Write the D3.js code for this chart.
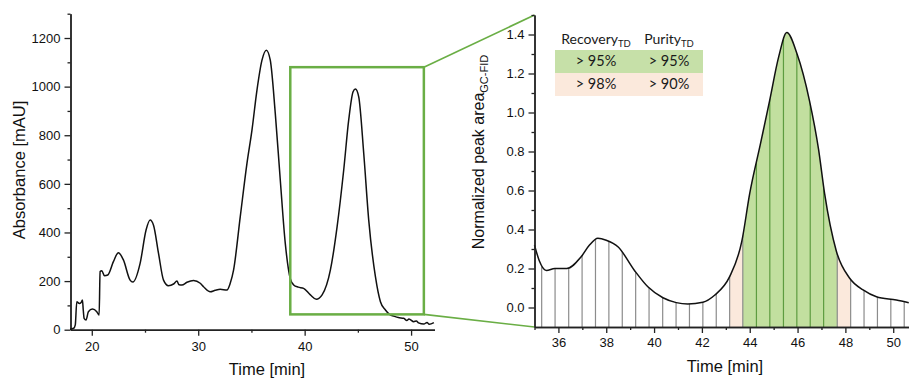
<!DOCTYPE html>
<html><head><meta charset="utf-8">
<script src="https://cdn.jsdelivr.net/npm/d3@7"></script>
<style>body{margin:0;background:#fff}svg{display:block}</style>
</head><body>
<svg id="c" width="909" height="378"></svg>
<script>
// ---- Data ----
const uvTime = [17.96,18.3,18.45,18.59,18.83,19.0,19.12,19.2,19.28,19.46,19.68,20.06,20.47,20.69,20.78,20.94,21.19,21.5,22.03,22.5,22.97,23.6,23.86,24.54,25.1,25.48,25.8,26.27,26.74,27.2,27.68,28.0,28.2,28.47,28.94,29.56,30.19,30.5,31.13,31.6,32.07,32.7,33.0,33.32,33.95,34.58,35.05,35.52,35.99,36.4,36.77,37.24,37.71,38.18,38.65,38.97,39.4,39.9,40.54,41.1,41.64,42.42,43.05,43.67,44.14,44.55,44.77,45.08,45.55,46.02,46.65,47.12,47.59,48.0,48.37,48.8,49.31,49.6,49.8,50.25,50.5,50.7,51.2,51.5,51.7,52.14];
const uvAbs = [2,6,20,115,108,112,122,80,47,40,74,85,74,60,239,243,222,225,280,317,287,204,196,273,410,451,430,314,204,181,188,200,185,184,195,202,191,177,156,162,166,163,190,245,465,684,821,986,1109,1150,1109,890,616,355,210,184,175,170,143,125,143,246,424,657,863,979,990,958,726,451,218,115,81,62,56,50,47,38,44,33,36,28,23,30,22,29];
const zoomTime = [38.65, 51.2];
const zoomAbs = [63, 1080];

const gcTime = [35.0,35.2,35.5,35.85,36.35,36.95,37.3,37.65,38.0,38.5,39.18,39.74,40.37,40.93,41.41,42.04,42.53,43.16,43.67,44.0,44.45,44.83,45.21,45.55,45.98,46.5,46.88,47.13,47.62,48.18,48.74,49.3,50.13,50.65];
const gcArea = [0.32,0.24,0.19,0.20,0.20,0.26,0.32,0.355,0.345,0.31,0.19,0.106,0.05,0.025,0.018,0.027,0.063,0.158,0.34,0.585,0.84,1.06,1.285,1.41,1.30,1.06,0.81,0.585,0.29,0.15,0.09,0.055,0.038,0.024];
const fractionTimes = [35.30,35.86,36.43,36.99,37.55,38.11,38.67,39.23,39.79,40.36,40.92,41.48,42.04,42.60,43.16,43.71,44.28,44.84,45.41,45.97,46.53,47.09,47.66,48.22,48.78,49.34,49.90,50.46];
const greenRange = [43.71, 47.66];
const beigeRange = [43.16, 48.22];

const tableHeaders = ["Recovery", "Purity"];
const tableSub = "TD";
const tableRows = [["> 95%", "> 95%"], ["> 98%", "> 90%"]];

const leftXMajor = [20,30,40,50], leftXMinor = [25,35,45];
const leftYMajor = [0,200,400,600,800,1000,1200], leftYMinor = [100,300,500,700,900,1100,1300];
const rightXMajor = [36,38,40,42,44,46,48,50], rightXMinor = [35,37,39,41,43,45,47,49];
const rightYMajor = [0,0.2,0.4,0.6,0.8,1.0,1.2,1.4], rightYMinor = [0.1,0.3,0.5,0.7,0.9,1.1,1.3,1.5];

// ---- Drawing ----
const svg = d3.select("#c");
const AX = "#222", FONT = "'Liberation Sans', Arial, sans-serif";
const GREEN = "#6aae45";

const xL = d3.scaleLinear().domain([18, 52.2]).range([70.5, 434.5]);
const yL = d3.scaleLinear().domain([0, 1300]).range([329.7, 13.7]);
const xR = d3.scaleLinear().domain([35, 50.66]).range([534.5, 909]);
const yR = d3.scaleLinear().domain([-0.1, 1.5]).range([327, 15]);

function styleAxis(g){
  g.select(".domain").attr("stroke", AX).attr("stroke-width", 1.4);
  g.selectAll(".tick line").attr("stroke", AX).attr("stroke-width", 1.3);
  g.selectAll(".tick text").attr("font-family", FONT).attr("font-size", 13).attr("fill", "#111");
}

// left axes
svg.append("g").attr("transform", `translate(0,${yL(0)})`)
  .call(d3.axisBottom(xL).tickValues(leftXMinor).tickSize(3).tickFormat("").tickSizeOuter(0)).call(styleAxis);
svg.append("g").attr("transform", `translate(0,${yL(0)})`)
  .call(d3.axisBottom(xL).tickValues(leftXMajor).tickSize(6).tickPadding(6).tickFormat(d3.format("d")).tickSizeOuter(0)).call(styleAxis);
svg.append("g").attr("transform", `translate(${xL(18)},0)`)
  .call(d3.axisLeft(yL).tickValues(leftYMinor).tickSize(3).tickFormat("").tickSizeOuter(0)).call(styleAxis);
svg.append("g").attr("transform", `translate(${xL(18)},0)`)
  .call(d3.axisLeft(yL).tickValues(leftYMajor).tickSize(6).tickPadding(4).tickFormat(d3.format("d")).tickSizeOuter(0)).call(styleAxis);

// left curve
const uv = uvTime.map((t,i)=>[t, uvAbs[i]]);
svg.append("path").datum(uv)
  .attr("d", d3.line().x(d=>xL(d[0])).y(d=>yL(d[1])).curve(d3.curveMonotoneX))
  .attr("fill","none").attr("stroke","#111").attr("stroke-width",1.5).attr("stroke-linejoin","round");

// zoom box + connectors
svg.append("rect")
  .attr("x", xL(zoomTime[0])).attr("y", yL(zoomAbs[1]))
  .attr("width", xL(zoomTime[1]) - xL(zoomTime[0])).attr("height", yL(zoomAbs[0]) - yL(zoomAbs[1]))
  .attr("fill","none").attr("stroke",GREEN).attr("stroke-width",2.5);
svg.append("line").attr("x1", xL(zoomTime[1])).attr("y1", yL(zoomAbs[1])).attr("x2", xR(35)).attr("y2", yR(1.5))
  .attr("stroke",GREEN).attr("stroke-width",1.6);
svg.append("line").attr("x1", xL(zoomTime[1])).attr("y1", yL(zoomAbs[0])).attr("x2", xR(35)).attr("y2", yR(-0.1))
  .attr("stroke",GREEN).attr("stroke-width",1.6);

// axis labels left
svg.append("text").attr("transform", `translate(25,170) rotate(-90)`).attr("text-anchor","middle")
  .attr("font-family",FONT).attr("font-size",16.5).attr("fill","#111").text("Absorbance [mAU]");
svg.append("text").attr("x",267).attr("y",375).attr("text-anchor","middle")
  .attr("font-family",FONT).attr("font-size",16.5).attr("fill","#111").text("Time [min]");

// right chart
const gc = gcTime.map((t,i)=>[t, gcArea[i]]);
const areaGen = d3.area().x(d=>xR(d[0])).y0(yR(-0.1)).y1(d=>yR(d[1])).curve(d3.curveMonotoneX);
svg.append("clipPath").attr("id","under").append("path").datum(gc).attr("d", areaGen);
const plot = svg.append("g").attr("clip-path","url(#under)");
plot.append("rect").attr("x", xR(beigeRange[0])).attr("width", xR(beigeRange[1]) - xR(beigeRange[0]))
  .attr("y", yR(1.5)).attr("height", yR(-0.1) - yR(1.5)).attr("fill", "#fbe9dc");
plot.append("rect").attr("x", xR(greenRange[0])).attr("width", xR(greenRange[1]) - xR(greenRange[0]))
  .attr("y", yR(1.5)).attr("height", yR(-0.1) - yR(1.5)).attr("fill", "#c2df9f");
plot.selectAll("line.frac").data(fractionTimes).enter().append("line")
  .attr("x1", d=>xR(d)).attr("x2", d=>xR(d)).attr("y1", yR(-0.1)).attr("y2", yR(1.5))
  .attr("stroke", d => (d > greenRange[0] && d < greenRange[1]) ? "#5e9c40" : "#8c8c8c")
  .attr("stroke-width", 1.2);
svg.append("path").datum(gc)
  .attr("d", d3.line().x(d=>xR(d[0])).y(d=>yR(d[1])).curve(d3.curveMonotoneX))
  .attr("fill","none").attr("stroke","#111").attr("stroke-width",1.5);

// right axes
svg.append("g").attr("transform", `translate(0,${yR(-0.1)})`)
  .call(d3.axisBottom(xR).tickValues(rightXMinor).tickSize(3).tickFormat("").tickSizeOuter(0)).call(styleAxis);
svg.append("g").attr("transform", `translate(0,${yR(-0.1)})`)
  .call(d3.axisBottom(xR).tickValues(rightXMajor).tickSize(6).tickPadding(5).tickFormat(d3.format("d")).tickSizeOuter(0)).call(styleAxis);
svg.append("g").attr("transform", `translate(${xR(35)},0)`)
  .call(d3.axisLeft(yR).tickValues(rightYMinor).tickSize(3).tickFormat("").tickSizeOuter(0)).call(styleAxis);
svg.append("g").attr("transform", `translate(${xR(35)},0)`)
  .call(d3.axisLeft(yR).tickValues(rightYMajor).tickSize(6).tickPadding(4).tickFormat(d3.format(".1f")).tickSizeOuter(0)).call(styleAxis);

// right labels
const yl = svg.append("text").attr("transform", `translate(484,152) rotate(-90)`).attr("text-anchor","middle")
  .attr("font-family",FONT).attr("font-size",16).attr("fill","#111");
yl.append("tspan").text("Normalized peak area");
yl.append("tspan").attr("font-size",11).attr("dy",4).text("GC-FID");
svg.append("text").attr("x",725).attr("y",372).attr("text-anchor","middle")
  .attr("font-family",FONT).attr("font-size",16.5).attr("fill","#111").text("Time [min]");

// table
const TF = "Lato, 'Open Sans', sans-serif";
const colX = [596, 669];
const rowFill = ["#c6e0a8", "#fbe9dc"];
tableRows.forEach((r,i)=>{
  svg.append("rect").attr("x",555).attr("y",50 + i*23).attr("width",148).attr("height",23).attr("fill",rowFill[i]);
  r.forEach((v,j)=>{
    svg.append("text").attr("x",colX[j]).attr("y",66 + i*23).attr("text-anchor","middle")
      .attr("font-family",TF).attr("font-size",14.5).attr("fill","#1a1a1a").text(v);
  });
});
tableHeaders.forEach((h,j)=>{
  const t = svg.append("text").attr("x",colX[j]).attr("y",44).attr("text-anchor","middle")
    .attr("font-family",TF).attr("font-size",14).attr("fill","#1a1a1a");
  t.append("tspan").text(h);
  t.append("tspan").attr("font-size",9.5).attr("dy",3).text(tableSub);
});
</script>
</body></html>
